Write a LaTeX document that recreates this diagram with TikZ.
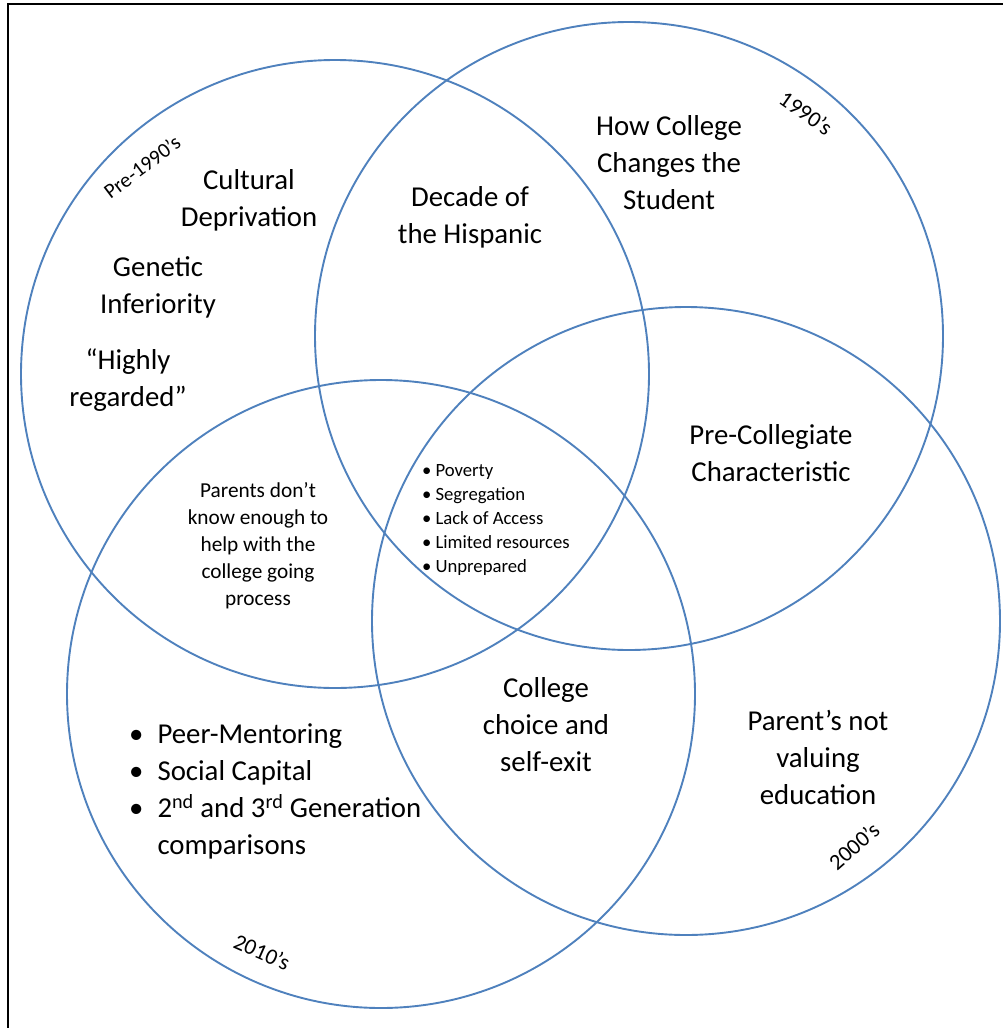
\documentclass[tikz,border=0pt]{standalone}
\usepackage{fontspec}
\setmainfont{Carlito}
\definecolor{eraBlue}{RGB}{79,129,189}
\tikzset{
  era/.style={circle, draw=eraBlue, line width=1.9pt, minimum size=628pt, inner sep=0pt},
  big/.style={align=center, font=\fontsize{28.8}{37}\selectfont, inner sep=0pt},
  mid/.style={align=center, font=\fontsize{21.3}{27}\selectfont, inner sep=0pt},
  small/.style={align=left, font=\fontsize{18.7}{24}\selectfont, inner sep=0pt},
  label/.style={font=\fontsize{22.5}{24}\selectfont, inner sep=0pt},
  frameline/.style={line width=2.2pt, black}
}
\begin{document}
\begin{tikzpicture}[x=1pt,y=-1pt]
\useasboundingbox (0,0) rectangle (1003,1028);
\coordinate (fb) at (8,1028);
\coordinate (fc) at (8,4);
\coordinate (fr) at (1003,4);
\draw[frameline] (fb) -- (fc) -- (fr);

\node[era] (pre) at (335,374) {};
\node[era] (n90) at (629,336) {};
\node[era] (n00) at (686,621) {};
\node[era] (n10) at (381,694) {};

\node[label, font=\fontsize{21}{24}\selectfont, rotate=37] (lpre) at (142,167) {Pre-1990’s};
\node[label, rotate=-35] (l90) at (806,113) {1990’s};
\node[label, rotate=41] (l00) at (854,846) {2000’s};
\node[label, rotate=-24] (l10) at (262,952) {2010’s};

\node[big] (cult) at (249,200) {Cultural\\Deprivation};
\node[big] (gen) at (158,287) {Genetic\\Inferiority};
\node[big] (high) at (128,380) {“Highly\\regarded”};
\node[big] (dec) at (470,217) {Decade of\\the Hispanic};
\node[big] (how) at (669,163) {How College\\Changes the\\Student};
\node[big] (prec) at (771,453) {Pre-Collegiate\\Characteristic};
\node[big] (choice) at (546,725) {College\\choice and\\self-exit};
\node[big] (pval) at (818,757) {Parent’s not\\valuing\\education};
\node[mid] (pknow) at (258,546) {Parents don’t\\know enough to\\help with the\\college going\\process};

\node[small, anchor=west] (core) at (422,520) {\begin{tabular}{@{}l@{\hspace{4pt}}l@{}}
•&Poverty\\ •&Segregation\\ •&Lack of Access\\ •&Limited resources\\ •&Unprepared
\end{tabular}};

\node[big, align=left, anchor=west] (peer) at (129,792) {\begin{tabular}{@{}l@{\hspace{14pt}}l@{}}
•&Peer-Mentoring\\ •&Social Capital\\ •&2\textsuperscript{nd} and 3\textsuperscript{rd} Generation\\ &comparisons
\end{tabular}};
\end{tikzpicture}
\end{document}
